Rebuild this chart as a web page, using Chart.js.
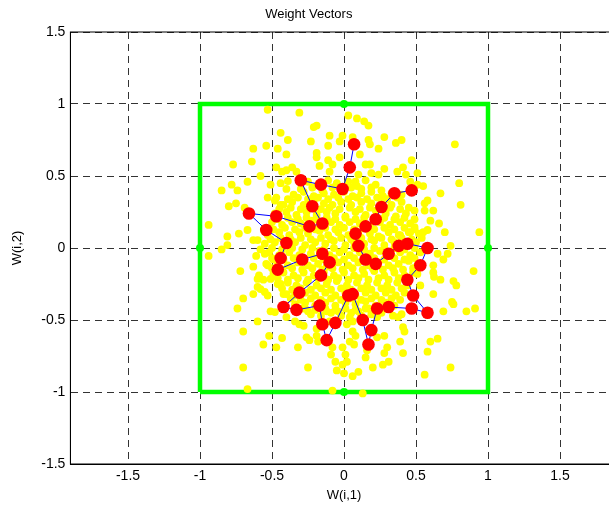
<!DOCTYPE html>
<html lang="en">
<head>
<meta charset="UTF-8">
<title>Weight Vectors</title>
<script src="https://cdn.jsdelivr.net/npm/chart.js"></script>
<style>
body { margin: 0; background: #fff; overflow: hidden; }
/* the plot box runs past the right edge of the window, like the cropped original */
.chart-wrap { position: relative; width: 688px; height: 514px; }
</style>
</head>
<body>
<div class="chart-wrap"><canvas id="somChart"></canvas></div>
<script>
const xTicks = [-1.5, -1, -0.5, 0, 0.5, 1, 1.5];
const yTicks = [-1.5, -1, -0.5, 0, 0.5, 1, 1.5];

// green frame, with the dots on the side midpoints
const squareX = [-1, -1, -1, 0, 1, 1, 1, 0, -1];
const squareY = [-1, 0, 1, 1, 1, 0, -1, -1, -1];

// SOM neurons, in chain order
const neuronX = [0.07, 0.04, -0.01, -0.16, -0.30, -0.22, -0.15, -0.24, -0.47, -0.66,
  -0.54, -0.40, -0.44, -0.46, -0.29, -0.15, -0.10, -0.16, -0.31, -0.42,
  -0.33, -0.17, -0.15, -0.12, -0.06, 0.03, 0.06, 0.13, 0.17, 0.19,
  0.23, 0.31, 0.47, 0.58, 0.48, 0.44, 0.53, 0.58, 0.44, 0.38,
  0.31, 0.22, 0.15, 0.10, 0.08, 0.15, 0.22, 0.26, 0.35, 0.47];
const neuronY = [0.72, 0.56, 0.41, 0.44, 0.47, 0.29, 0.17, 0.15, 0.22, 0.24,
  0.125, 0.035, -0.07, -0.15, -0.08, -0.04, -0.10, -0.19, -0.31, -0.41,
  -0.43, -0.40, -0.53, -0.64, -0.52, -0.33, -0.32, -0.50, -0.67, -0.57,
  -0.42, -0.41, -0.42, -0.45, -0.33, -0.22, -0.12, 0.0, 0.03, 0.015,
  -0.04, -0.11, -0.08, 0.015, 0.10, 0.15, 0.20, 0.285, 0.38, 0.40];

// input samples, dense middle part
const coreSamples = [
  [-0.25,0.46],[-0.18,0.44],[-0.11,0.47],[-0.05,0.45],[0.03,0.46],[0.09,0.43],[0.15,0.47],[0.22,0.44],
  [-0.35,0.37],[-0.28,0.39],[-0.21,0.36],[-0.14,0.38],[-0.07,0.37],[0.0,0.39],[0.06,0.36],[0.12,0.38],[0.19,0.39],[0.27,0.36],[0.33,0.38],
  [-0.42,0.30],[-0.36,0.32],[-0.28,0.30],[-0.21,0.33],[-0.14,0.31],[-0.08,0.30],[-0.02,0.32],[0.05,0.30],[0.12,0.32],[0.19,0.31],[0.26,0.33],[0.33,0.30],[0.40,0.32],
  [-0.48,0.24],[-0.40,0.25],[-0.33,0.23],[-0.26,0.25],[-0.19,0.23],[-0.12,0.25],[-0.06,0.24],[0.01,0.22],[0.08,0.25],[0.15,0.23],[0.22,0.26],[0.29,0.24],[0.36,0.22],[0.43,0.24],
  [-0.50,0.18],[-0.43,0.16],[-0.36,0.18],[-0.30,0.17],[-0.22,0.19],[-0.16,0.16],[-0.09,0.18],[-0.03,0.16],[0.04,0.18],[0.11,0.17],[0.18,0.15],[0.25,0.18],[0.32,0.16],[0.39,0.18],[0.46,0.17],
  [-0.53,0.09],[-0.45,0.11],[-0.38,0.09],[-0.31,0.11],[-0.25,0.10],[-0.17,0.12],[-0.11,0.09],[-0.04,0.11],[0.03,0.09],[0.10,0.11],[0.18,0.10],[0.24,0.08],[0.31,0.11],[0.38,0.09],[0.45,0.11],[0.52,0.10],
  [-0.55,0.03],[-0.48,0.04],[-0.41,0.02],[-0.34,0.04],[-0.27,0.02],[-0.20,0.04],[-0.13,0.03],[-0.07,0.05],[0.01,0.02],[0.07,0.04],[0.14,0.03],[0.21,0.05],[0.28,0.02],[0.35,0.04],[0.42,0.02],[0.50,0.04],
  [-0.52,-0.03],[-0.45,-0.05],[-0.38,-0.03],[-0.31,-0.05],[-0.23,-0.04],[-0.17,-0.02],[-0.10,-0.05],[-0.03,-0.03],[0.04,-0.05],[0.11,-0.03],[0.18,-0.04],[0.25,-0.02],[0.32,-0.05],[0.39,-0.03],[0.46,-0.05],[0.53,-0.03],
  [-0.54,-0.11],[-0.46,-0.10],[-0.39,-0.12],[-0.32,-0.10],[-0.25,-0.12],[-0.18,-0.11],[-0.12,-0.13],[-0.04,-0.10],[0.03,-0.12],[0.10,-0.10],[0.17,-0.12],[0.24,-0.10],[0.31,-0.12],[0.38,-0.11],[0.45,-0.09],[0.51,-0.12],
  [-0.49,-0.18],[-0.42,-0.17],[-0.35,-0.19],[-0.28,-0.17],[-0.21,-0.19],[-0.14,-0.17],[-0.07,-0.19],[0.00,-0.17],[0.07,-0.19],[0.14,-0.18],[0.21,-0.16],[0.28,-0.19],[0.35,-0.17],[0.42,-0.19],[0.48,-0.17],
  [-0.46,-0.25],[-0.39,-0.24],[-0.33,-0.26],[-0.26,-0.24],[-0.19,-0.26],[-0.12,-0.25],[-0.05,-0.23],[0.02,-0.26],[0.09,-0.24],[0.16,-0.26],[0.23,-0.24],[0.30,-0.26],[0.37,-0.24],[0.44,-0.26],
  [-0.40,-0.32],[-0.34,-0.33],[-0.27,-0.31],[-0.20,-0.33],[-0.13,-0.31],[-0.06,-0.33],[0.01,-0.31],[0.08,-0.33],[0.15,-0.31],[0.22,-0.33],[0.29,-0.31],[0.36,-0.33],[0.42,-0.31],
  [-0.34,-0.39],[-0.27,-0.38],[-0.20,-0.40],[-0.13,-0.38],[-0.06,-0.40],[0.01,-0.38],[0.08,-0.39],[0.15,-0.37],[0.22,-0.40],[0.29,-0.38],[0.35,-0.40],
  [-0.23,-0.46],[-0.16,-0.47],[-0.09,-0.45],[-0.02,-0.47],[0.05,-0.45],[0.12,-0.47],[0.19,-0.46],[0.26,-0.45]
];

// more samples in between, the middle is nearly solid yellow
const innerSamples = [
  [-0.30,0.41],[-0.22,0.42],[-0.15,0.40],[-0.08,0.42],[-0.01,0.41],[0.05,0.42],[0.12,0.41],[0.19,0.42],[0.26,0.40],
  [-0.39,0.34],[-0.32,0.35],[-0.25,0.34],[-0.18,0.35],[-0.11,0.34],[-0.04,0.35],[0.03,0.34],[0.09,0.35],[0.16,0.34],[0.23,0.35],[0.30,0.34],[0.37,0.35],
  [-0.45,0.27],[-0.37,0.28],[-0.30,0.27],[-0.23,0.28],[-0.16,0.27],[-0.10,0.28],[-0.03,0.27],[0.04,0.28],[0.11,0.27],[0.18,0.28],[0.25,0.27],[0.32,0.28],[0.39,0.27],[0.45,0.28],
  [-0.46,0.20],[-0.39,0.21],[-0.32,0.20],[-0.26,0.21],[-0.19,0.20],[-0.12,0.21],[-0.06,0.20],[0.01,0.21],[0.08,0.20],[0.14,0.21],[0.21,0.20],[0.28,0.21],[0.35,0.20],[0.42,0.21],[0.49,0.20],
  [-0.49,0.13],[-0.41,0.14],[-0.34,0.13],[-0.27,0.14],[-0.20,0.13],[-0.13,0.14],[-0.06,0.13],[0.0,0.14],[0.07,0.13],[0.14,0.14],[0.21,0.13],[0.28,0.14],[0.35,0.13],[0.42,0.14],[0.49,0.13],
  [-0.51,0.06],[-0.44,0.07],[-0.37,0.06],[-0.30,0.07],[-0.23,0.06],[-0.16,0.07],[-0.09,0.06],[-0.02,0.07],[0.05,0.06],[0.12,0.07],[0.19,0.06],[0.26,0.07],[0.33,0.06],[0.40,0.07],[0.47,0.06],[0.54,0.07],
  [-0.50,0.0],[-0.43,-0.01],[-0.36,0.0],[-0.29,-0.01],[-0.22,0.0],[-0.14,-0.01],[-0.07,0.0],[0.0,-0.01],[0.07,0.0],[0.14,-0.01],[0.21,0.0],[0.28,-0.01],[0.35,0.0],[0.42,-0.01],[0.49,0.0],
  [-0.50,-0.07],[-0.42,-0.08],[-0.35,-0.07],[-0.28,-0.08],[-0.21,-0.07],[-0.14,-0.08],[-0.07,-0.07],[0.0,-0.08],[0.07,-0.07],[0.14,-0.08],[0.21,-0.07],[0.28,-0.08],[0.35,-0.07],[0.42,-0.08],[0.49,-0.07],
  [-0.50,-0.14],[-0.43,-0.15],[-0.36,-0.14],[-0.29,-0.15],[-0.22,-0.14],[-0.15,-0.15],[-0.08,-0.14],[-0.01,-0.15],[0.06,-0.14],[0.13,-0.15],[0.20,-0.14],[0.27,-0.15],[0.34,-0.14],[0.41,-0.15],[0.48,-0.14],
  [-0.46,-0.21],[-0.39,-0.22],[-0.32,-0.21],[-0.25,-0.22],[-0.18,-0.21],[-0.11,-0.22],[-0.04,-0.21],[0.03,-0.22],[0.10,-0.21],[0.17,-0.22],[0.24,-0.21],[0.31,-0.22],[0.38,-0.21],[0.45,-0.22],
  [-0.43,-0.28],[-0.36,-0.29],[-0.30,-0.28],[-0.23,-0.29],[-0.16,-0.28],[-0.09,-0.29],[-0.02,-0.28],[0.05,-0.29],[0.12,-0.28],[0.19,-0.29],[0.26,-0.28],[0.33,-0.29],[0.40,-0.28],
  [-0.37,-0.35],[-0.30,-0.36],[-0.23,-0.35],[-0.16,-0.36],[-0.09,-0.35],[-0.02,-0.36],[0.05,-0.35],[0.12,-0.36],[0.19,-0.35],[0.26,-0.36],[0.33,-0.35],[0.39,-0.36],
  [-0.27,-0.42],[-0.20,-0.43],[-0.13,-0.42],[-0.06,-0.43],[0.01,-0.42],[0.08,-0.43],[0.15,-0.42],[0.22,-0.43],[0.29,-0.42]
];

// input samples, scattered outer part
const outerSamples = [
  [-0.53,0.96],[-0.44,0.80],[-0.39,0.75],[-0.54,0.71],[-0.46,0.69],[-0.63,0.69],[-0.40,0.65],[-0.64,0.60],[-0.77,0.58],[-0.47,0.56],
  [-0.43,0.53],[-0.40,0.54],[-0.58,0.50],[-0.67,0.46],[-0.78,0.44],[-0.44,0.45],[-0.39,0.465],[-0.51,0.44],[-0.85,0.40],[-0.74,0.40],
  [-0.40,0.41],[-0.53,0.35],[-0.47,0.35],[-0.48,0.33],[-0.75,0.31],[-0.80,0.29],[-0.69,0.28],[-0.44,0.30],
  [-0.31,0.94],[0.03,0.92],[0.09,0.90],[0.14,0.88],[0.17,0.85],[-0.19,0.85],[-0.21,0.84],[-0.10,0.78],[-0.01,0.78],[0.06,0.77],
  [0.28,0.77],[0.17,0.75],[-0.23,0.74],[-0.11,0.71],[-0.03,0.74],[0.18,0.72],[0.36,0.73],[0.24,0.69],[-0.19,0.66],[-0.19,0.63],
  [-0.11,0.61],[-0.03,0.63],[0.11,0.65],[0.15,0.58],[0.18,0.58],[-0.36,0.56],[-0.17,0.57],[-0.08,0.58],[-0.10,0.53],[-0.33,0.53],
  [0.19,0.52],[0.24,0.51],[0.28,0.55],[0.37,0.53],[0.10,0.51],[0.08,0.46],
  [0.40,0.75],[0.77,0.72],[0.47,0.61],[0.41,0.56],[0.51,0.52],[0.43,0.51],[0.46,0.46],[0.51,0.44],[0.55,0.43],[0.80,0.45],
  [0.67,0.38],[0.40,0.37],[0.58,0.33],[0.56,0.31],[0.81,0.30],
  [-0.94,0.16],[-0.81,0.08],[-0.73,0.10],[-0.67,0.125],[-0.63,0.055],[-0.60,0.055],[-0.85,-0.01],[-0.81,0.02],[-0.58,-0.01],[-0.94,-0.055],
  [-0.61,-0.055],[-0.55,-0.04],[-0.49,-0.08],[-0.53,-0.12],[-0.63,-0.13],[-0.72,-0.16],[-0.59,-0.19],[-0.56,-0.22],[-0.51,-0.215],[-0.60,-0.215],
  [-0.60,-0.27],[-0.58,-0.285],[-0.55,-0.305],[-0.70,-0.35],[-0.53,-0.33],[-0.44,-0.25],[-0.42,-0.32],[-0.63,-0.32],
  [0.49,0.26],[0.56,0.26],[0.62,0.26],[0.66,0.17],[0.60,0.19],[0.58,0.125],[0.55,0.11],[0.70,0.11],[0.94,0.11],[0.49,0.145],
  [0.46,0.11],[0.39,0.09],[0.74,0.015],[0.72,-0.04],[0.65,-0.04],[0.69,-0.08],[0.62,-0.12],[0.62,-0.17],[0.67,-0.22],[0.625,-0.20],
  [0.90,-0.16],[0.76,-0.23],[0.78,-0.26],[0.51,-0.18],[0.53,-0.26],[0.62,-0.32],[0.75,-0.375],
  [-0.74,-0.42],[-0.60,-0.51],[-0.70,-0.58],[-0.52,-0.61],[-0.56,-0.67],[-0.47,-0.69],[-0.43,-0.625],[-0.51,-0.44],[-0.48,-0.445],[-0.40,-0.48],
  [-0.70,-0.83],[-0.67,-0.98],
  [-0.31,-0.53],[-0.26,-0.62],[-0.24,-0.64],[-0.32,-0.69],[-0.18,-0.65],[-0.19,-0.61],[-0.08,-0.69],[-0.01,-0.69],[-0.09,-0.74],[0.01,-0.74],
  [-0.06,-0.79],[0.02,-0.79],[-0.01,-0.81],[-0.25,-0.83],[-0.05,-0.85],[0.00,-0.87],[0.06,-0.89],[0.10,-0.86],[-0.08,-0.99],[0.13,-1.01],
  [0.06,-0.58],[0.08,-0.61],[0.04,-0.65],[0.07,-0.67],[0.16,-0.71],[0.15,-0.76],[0.20,-0.83],[0.28,-0.61],[0.30,-0.69],[0.28,-0.73],
  [0.31,-0.79],[0.27,-0.81],[0.23,-0.62],[0.02,-0.53],[0.06,-0.51],[-0.34,-0.51],[-0.28,-0.54],[-0.29,-0.42],[-0.25,-0.44],[-0.12,-0.44],
  [-0.04,-0.44],[0.04,-0.48],[0.10,-0.44],[0.17,-0.42],[0.23,-0.48],[0.34,-0.47],[0.375,-0.48],[-0.19,-0.56],[-0.10,-0.51],
  [0.69,-0.44],[0.76,-0.39],[0.85,-0.44],[0.91,-0.42],[0.40,-0.46],[0.41,-0.55],[0.42,-0.58],[0.39,-0.65],[0.41,-0.73],[0.60,-0.65],
  [0.65,-0.63],[0.58,-0.72],[0.74,-0.83],[0.56,-0.88]
];

const toPoints = (xs, ys) => xs.map((x, i) => ({ x: x, y: ys[i] }));
const samplePoints = coreSamples.concat(innerSamples, outerSamples).map(p => ({ x: p[0], y: p[1] }));
// only the midpoints of the frame get a dot
const squareDots = squareX.map((x, i) => (x === 0 || squareY[i] === 0) ? 4 : 0);

const FONT = 'Liberation Sans, Arial, Helvetica, sans-serif';

// plain black frame on top and right (the scales only draw left and bottom)
const boxPlugin = {
  id: 'box',
  beforeDatasetsDraw(chart) {
    const a = chart.chartArea;
    const ctx = chart.ctx;
    ctx.save();
    ctx.strokeStyle = '#000';
    ctx.lineWidth = 1;
    ctx.strokeRect(a.left, a.top, a.right - a.left, a.bottom - a.top);
    ctx.restore();
  }
};

const ctx = document.getElementById('somChart').getContext('2d');
new Chart(ctx, {
  type: 'scatter',
  data: {
    datasets: [
      {
        label: 'neurons',
        data: toPoints(neuronX, neuronY),
        showLine: true,
        borderColor: '#0000ff',
        borderWidth: 1,
        pointRadius: 6.3,
        pointBackgroundColor: '#ff0000',
        pointBorderWidth: 0,
        tension: 0
      },
      {
        label: 'samples',
        data: samplePoints,
        pointRadius: 3.9,
        pointBackgroundColor: '#ffff00',
        pointBorderWidth: 0
      },
      {
        label: 'frame',
        data: toPoints(squareX, squareY),
        showLine: true,
        borderColor: '#00ff00',
        borderWidth: 4.5,
        borderJoinStyle: 'miter',
        pointRadius: squareDots,
        pointBackgroundColor: '#00ff00',
        pointBorderWidth: 0,
        tension: 0
      }
    ]
  },
  options: {
    responsive: true,
    maintainAspectRatio: false,
    animation: false,
    events: [],
    layout: { padding: { left: 0, right: 70.4, top: 0, bottom: 0 } },
    plugins: {
      legend: { display: false },
      tooltip: { enabled: false },
      title: {
        display: true,
        text: 'Weight Vectors',
        color: '#000',
        font: { family: FONT, size: 13, weight: 'normal' },
        padding: { top: 7, bottom: 9.4 }
      }
    },
    scales: {
      x: {
        type: 'linear',
        min: -1.9,
        max: 1.9,
        afterBuildTicks: s => { s.ticks = xTicks.map(v => ({ value: v })); },
        afterFit: s => { s.height = 50; },
        ticks: {
          color: '#000',
          font: { family: FONT, size: 14 },
          padding: 4,
          maxRotation: 0,
          autoSkip: false,
          callback: v => String(v)
        },
        grid: { color: 'rgba(0,0,0,0.8)', lineWidth: 1, drawTicks: false },
        border: { display: true, color: '#000', width: 1, dash: [7, 5] },
        title: {
          display: true,
          text: 'W(i,1)',
          color: '#000',
          font: { family: FONT, size: 13 },
          padding: { top: 0, bottom: 11 }
        }
      },
      y: {
        type: 'linear',
        min: -1.5,
        max: 1.5,
        afterBuildTicks: s => { s.ticks = yTicks.map(v => ({ value: v })); },
        afterFit: s => { s.width = 70.4; },
        ticks: {
          color: '#000',
          font: { family: FONT, size: 14 },
          padding: 5,
          autoSkip: false,
          callback: v => String(v)
        },
        grid: { color: 'rgba(0,0,0,0.8)', lineWidth: 1, drawTicks: false },
        border: { display: true, color: '#000', width: 1, dash: [7, 5] },
        title: {
          display: true,
          text: 'W(i,2)',
          color: '#000',
          font: { family: FONT, size: 13 },
          padding: { top: 10, bottom: 0 }
        }
      }
    }
  },
  plugins: [boxPlugin]
});
</script>
</body>
</html>
